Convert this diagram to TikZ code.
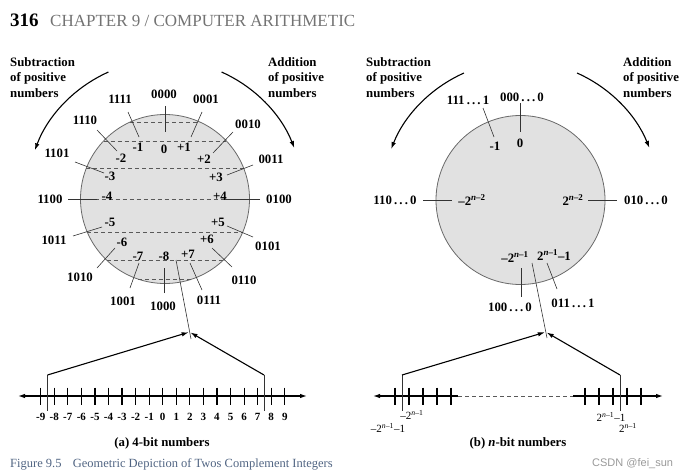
\documentclass[tikz,border=0pt]{standalone}
\usepackage{fontspec}
\setmainfont{Liberation Serif}
\setsansfont{Liberation Sans}
\usetikzlibrary{
  arrows.meta,
  calc
}
\definecolor{discgray}{RGB}{225,225,225}
\definecolor{rimgray}{RGB}{105,105,105}
\definecolor{capblue}{RGB}{80,100,130}
\definecolor{headgray}{RGB}{115,115,115}
\newcommand{\fs}[1]{\fontsize{#1}{#1}\selectfont}
\newcommand{\pw}[1]{2\textsuperscript{\textit{n}–#1}}
\newcommand{\dd}{\,.\,.\,.\,}

\begin{document}
\begin{tikzpicture}[
  x=1pt, y=1pt,
  lbl/.style={
    font=\bfseries\fs{12.8},
    inner sep=0pt
  },
  sidetext/.style={
    font=\bfseries\fontsize{12.8}{15.5}\selectfont,
    align=left,
    anchor=north west,
    inner sep=0pt
  },
  numlbl/.style={
    font=\bfseries\fs{11},
    inner sep=0pt
  },
  powlbl/.style={
    font=\fs{11},
    inner sep=0pt
  },
  disc/.style={
    circle,
    draw=rimgray,
    line width=0.8pt,
    fill=discgray,
    minimum size=169,
    inner sep=0pt,
    outer sep=0pt
  },
  chord/.style={
    draw=black!65,
    dashed,
    dash pattern=on 4pt off 3pt,
    line width=0.6pt
  },
  radial/.style={
    draw=black!80,
    line width=0.6pt
  },
  turn/.style={
    -{Latex[length=7pt,width=4.5pt]},
    line width=1.1pt
  },
  numline/.style={
    line width=1.2pt
  },
  numtick/.style={
    line width=1.2pt
  },
  marker/.style={
    draw=black!80,
    line width=0.6pt
  },
  fold/.style={
    -{Latex[length=7pt,width=4.5pt]},
    line width=1.1pt,
    shorten >=1pt
  }
]
\useasboundingbox (0,0) rectangle (684,-473);

% header
\node[anchor=base west, font=\bfseries\fs{19}, inner sep=0pt] (pgno) at (10,-27) {316};
\node[anchor=base west, font=\fs{17}, text=headgray, inner sep=0pt] (chap) at (50,-27) {CHAPTER 9 / COMPUTER ARITHMETIC};

% (a) four bit circle
\node[disc] (lc) at (165,-199) {};
\foreach \dy in {-77,-58,-31,0,33,61,80}
  \draw[chord] ($(lc)+({-sqrt(84.5*84.5-\dy*\dy)},{-\dy})$) -- ($(lc)+({sqrt(84.5*84.5-\dy*\dy)},{-\dy})$);

\foreach \bin/\bx/\by/\ax/\ay/\cx/\cy/\val/\vx/\vy [count=\i] in {
  0000/164/94/165/106/165/132/0/164/149,
  0001/206/99/202/112/191/137/+1/184/147,
  0010/248/124/233/132/213/153/+2/204/159,
  0011/271/159/253/165/227/175/+3/216/177,
  0100/279/199/260/199/225/199/+4/220/196,
  0101/268/246/253/237/227/226/+5/218/222,
  0110/244/280/232/267/212/248/+6/207/239,
  0111/209/300/202/290/190/263/+7/188/254,
  1000/163/306/164/293/164/268/-8/164/256,
  1001/123/301/130/288/139/263/-7/138/256,
  1010/80/277/97/268/115/248/-6/122/242,
  1011/54/240/73/236/102/227/-5/110/222,
  1100/50/199/68/199/97/199/-4/107/196,
  1101/57/153/75/162/104/173/-3/110/176,
  1110/85/120/97/130/117/151/-2/121/158,
  1111/120/99/128/112/139/137/-1/138/147} {
  \node[lbl] (bin\i) at (\bx,-\by) {\bin};
  \node[lbl] (val\i) at (\vx,-\vy) {\val};
  \coordinate (ta\i) at (\ax,-\ay);
  \coordinate (tb\i) at (\cx,-\cy);
  \draw[radial] (ta\i) -- (tb\i);
}

\node[sidetext] (subA) at (10,-57) {Subtraction\\of positive\\numbers};
\node[sidetext] (addA) at (268,-57) {Addition\\of positive\\numbers};
\draw[turn] ($(lc)+(114:139)$) arc[start angle=114, end angle=159.5, radius=139];
\draw[turn] ($(lc)+(66:139)$) arc[start angle=66, end angle=21.5, radius=139];

% (a) number line
\coordinate (nlL) at (18,-396);
\coordinate (nlR) at (307,-396);
\draw[numline, {Latex[length=7pt,width=4.5pt]}-{Latex[length=7pt,width=4.5pt]}] (nlL) -- (nlR);
\foreach \v [count=\k from 0] in {-9,...,9} {
  \draw[numtick] ({40.7+13.56*\k},-387.5) -- ({40.7+13.56*\k},-404.5);
  \node[numlbl] (nv\k) at ({40.7+13.56*\k},-417) {\v};
}
\coordinate (mkA1) at (47.5,-375);
\coordinate (mkA2) at (47.5,-411);
\coordinate (mkB1) at (264,-375);
\coordinate (mkB2) at (264,-411);
\draw[marker] (mkA1) -- (mkA2);
\draw[marker] (mkB1) -- (mkB2);
\coordinate (ovA1) at (176,-260);
\coordinate (ovA2) at (191,-339);
\draw[marker] (ovA1) -- (ovA2);
\coordinate (apxA) at (189.6,-332);
\draw[fold] (mkA1) -- (apxA);
\draw[fold] (mkB1) -- (apxA);
\node[lbl] (capA) at (162,-443) {(a) 4-bit numbers};

% (b) n bit circle
\node[disc] (rc) at (520.5,-200) {};
\node[lbl] (r111) at (468,-100) {111\dd 1};
\node[lbl] (r000) at (522,-97) {000\dd 0};
\node[lbl] (rm1) at (495,-146) {-1};
\node[lbl] (rz) at (520,-143) {0};
\coordinate (rt1a) at (520,-103);
\coordinate (rt1b) at (520,-132);
\coordinate (rt2a) at (483,-108);
\coordinate (rt2b) at (494,-137);
\draw[radial] (rt1a) -- (rt1b);
\draw[radial] (rt2a) -- (rt2b);
\node[lbl] (r110) at (395,-200) {110\dd 0};
\node[lbl] (rmq) at (472,-200) {–\pw{2}};
\coordinate (rt3a) at (423,-200);
\coordinate (rt3b) at (452,-200);
\draw[radial] (rt3a) -- (rt3b);
\node[lbl] (rpq) at (573,-200) {\pw{2}};
\node[lbl] (r010) at (646,-200) {010\dd 0};
\coordinate (rt4a) at (588,-200);
\coordinate (rt4b) at (617,-200);
\draw[radial] (rt4a) -- (rt4b);
\node[lbl] (rmh) at (515,-257) {–\pw{1}};
\node[lbl] (rph) at (554,-255) {\pw{1}–1};
\node[lbl] (r100) at (510,-307) {100\dd 0};
\node[lbl] (r011) at (573,-303) {011\dd 1};
\coordinate (rt5a) at (521,-268);
\coordinate (rt5b) at (521,-297);
\coordinate (rt6a) at (547,-263);
\coordinate (rt6b) at (557,-289);
\draw[radial] (rt5a) -- (rt5b);
\draw[radial] (rt6a) -- (rt6b);

\node[sidetext] (subB) at (366,-57) {Subtraction\\of positive\\numbers};
\node[sidetext] (addB) at (623,-57) {Addition\\of positive\\numbers};
\draw[turn] ($(rc)+(114:139)$) arc[start angle=114, end angle=158.5, radius=139];
\draw[turn] ($(rc)+(66:139)$) arc[start angle=66, end angle=22, radius=139];

% (b) number line
\coordinate (nrL) at (373,-396);
\coordinate (nrA) at (458,-396);
\coordinate (nrB) at (573,-396);
\coordinate (nrR) at (663,-396);
\draw[numline, {Latex[length=7pt,width=4.5pt]}-] (nrL) -- (nrA);
\draw[chord] (nrA) -- (nrB);
\draw[numline, -{Latex[length=7pt,width=4.5pt]}] (nrB) -- (nrR);
\foreach \x in {395,409,423,437,451,585,599,613,627,641}
  \draw[numtick] (\x,-387.5) -- (\x,-404.5);
\coordinate (mkC1) at (402,-375);
\coordinate (mkC2) at (402,-411);
\coordinate (mkD1) at (620,-375);
\coordinate (mkD2) at (620,-411);
\draw[marker] (mkC1) -- (mkC2);
\draw[marker] (mkD1) -- (mkD2);
\node[powlbl] (lowA) at (412,-415) {–\pw{1}};
\node[powlbl] (lowB) at (388,-428) {–\pw{1}–1};
\node[powlbl] (highA) at (611,-417) {\pw{1}–1};
\node[powlbl] (highB) at (628,-428) {\pw{1}};
\coordinate (ovB1) at (532,-263);
\coordinate (ovB2) at (547,-338);
\draw[marker] (ovB1) -- (ovB2);
\coordinate (apxB) at (545.8,-332);
\draw[fold] (mkC1) -- (apxB);
\draw[fold] (mkD1) -- (apxB);
\node[lbl] (capB) at (518,-443) {(b) \textit{n}-bit numbers};

% caption
\node[anchor=base west, font=\fs{12.5}, text=capblue, inner sep=0pt] (figcap) at (10,-467) {Figure 9.5\hspace{0.9em}Geometric Depiction of Twos Complement Integers};
\node[anchor=base west, font=\sffamily\fs{11}, text=black!40, inner sep=0pt] (mark) at (592,-466) {CSDN @fei\_sun};
\end{tikzpicture}
\end{document}
